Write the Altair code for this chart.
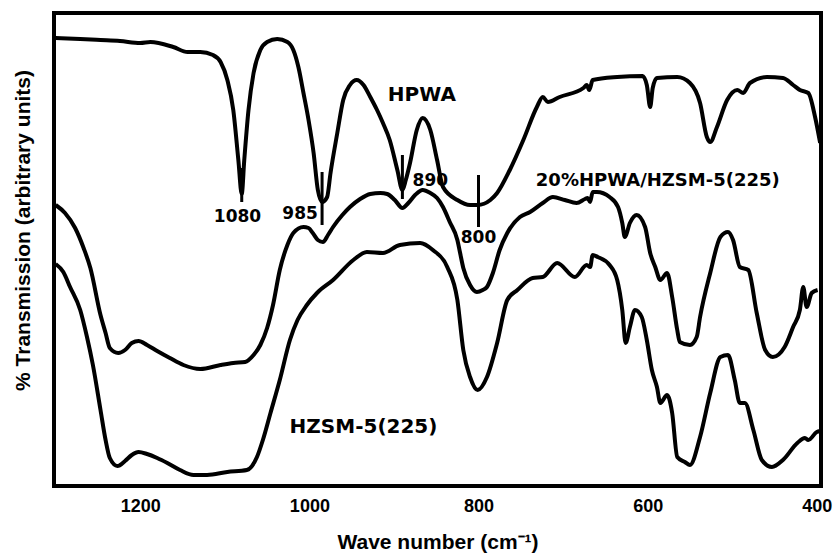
import altair as alt
import pandas as pd

# Wave numbers (cm-1) and transmission (arbitrary units) for each spectrum
hpwa_wn = [1300, 1271, 1247, 1224, 1200, 1188, 1161, 1144, 1129, 1114,
           1105, 1097, 1090, 1084, 1080, 1077, 1072, 1066, 1058, 1050,
           1038, 1026, 1019, 1013, 1007, 1001, 995, 990, 985, 979,
           975, 967, 960, 952, 944, 936, 928, 920, 913, 905,
           896, 890, 886, 881, 873, 866, 857, 849, 842, 825,
           810, 801, 786, 778, 763, 747, 731, 724, 718, 704,
           676, 672, 669, 665, 636, 606, 601, 597, 594, 589,
           565, 550, 538, 530, 526, 518, 506, 494, 487, 479,
           459, 440, 428, 420, 410, 402, 396]
hpwa_t = [44.8, 44.7, 44.6, 44.5, 44.3, 44.4, 43.9, 43.4, 43.4, 43.1,
          42.4, 40.6, 37.6, 32.6, 29.2, 32.6, 37.6, 41.3, 43.6, 44.4,
          44.7, 44.4, 43.6, 41.9, 39.3, 36.6, 33.3, 29.6, 28.4, 28.9,
          31.3, 35.3, 38.6, 40.1, 40.6, 40.1, 38.9, 37.6, 36.3, 34.6,
          31.6, 29.6, 30.6, 32.3, 35.6, 36.8, 35.6, 32.6, 29.9, 28.6,
          28.1, 28.1, 28.6, 29.3, 31.6, 34.6, 37.9, 38.9, 38.4, 38.9,
          39.8, 40.1, 39.6, 40.6, 40.9, 41.0, 40.1, 37.9, 39.8, 40.8,
          40.9, 40.3, 38.3, 34.9, 34.4, 35.9, 38.6, 39.6, 39.3, 40.3,
          40.9, 40.8, 40.1, 39.6, 39.3, 36.9, 34.3]

composite_wn = [1300, 1289, 1277, 1267, 1259, 1247, 1241, 1236, 1226, 1218,
                1210, 1202, 1192, 1180, 1165, 1149, 1129, 1105, 1090, 1076,
                1066, 1058, 1050, 1043, 1035, 1026, 1019, 1007, 1001, 996,
                990, 984, 978, 972, 961, 952, 940, 928, 916, 908,
                899, 890, 883, 875, 866, 857, 849, 842, 834, 825,
                822, 818, 810, 802, 795, 790, 783, 775, 766, 751,
                739, 724, 712, 698, 684, 674, 671, 668, 665, 660,
                645, 635, 630, 627, 621, 613, 603, 597, 591, 585,
                577, 571, 565, 562, 550, 542, 538, 526, 514, 505,
                499, 491, 481, 471, 461, 452, 438, 428, 420, 416,
                412, 406, 399]
composite_t = [28.1, 27.3, 25.8, 23.8, 21.8, 17.1, 15.3, 13.8, 13.3, 13.6,
               14.3, 14.5, 14.1, 13.5, 12.8, 12.1, 11.7, 12.1, 12.3, 12.4,
               13.1, 14.1, 15.8, 18.1, 21.6, 24.1, 25.3, 25.9, 25.8, 25.3,
               24.6, 24.4, 25.1, 25.9, 27.1, 27.9, 28.7, 29.2, 29.3, 29.2,
               28.6, 27.8, 28.3, 29.1, 29.6, 29.3, 28.8, 27.9, 26.4, 24.6,
               23.4, 21.8, 20.1, 19.4, 19.6, 19.9, 21.3, 23.6, 25.3, 26.9,
               27.4, 28.3, 28.9, 28.6, 28.3, 28.7, 28.8, 28.4, 29.4, 29.4,
               28.9, 27.9, 26.3, 24.9, 26.3, 27.1, 25.9, 23.3, 21.9, 20.6,
               21.3, 18.9, 15.6, 14.4, 14.1, 14.9, 16.9, 21.3, 24.9, 25.4,
               24.6, 21.9, 21.6, 17.3, 13.6, 12.9, 13.9, 15.9, 17.6, 19.9,
               17.9, 19.3, 19.6]

hzsm_wn = [1300, 1291, 1283, 1271, 1263, 1256, 1247, 1241, 1236, 1227,
           1218, 1210, 1202, 1192, 1180, 1168, 1153, 1137, 1121, 1097,
           1074, 1062, 1055, 1046, 1035, 1023, 1014, 1003, 991, 972,
           948, 932, 913, 893, 869, 854, 837, 825, 818, 810,
           801, 790, 778, 766, 754, 736, 724, 707, 686, 672,
           668, 665, 659, 645, 636, 630, 626, 621, 615, 607,
           601, 595, 589, 585, 577, 571, 565, 556, 550, 538,
           526, 514, 505, 497, 491, 485, 475, 465, 453, 440,
           423, 414, 410, 400, 396]
hzsm_t = [22.2, 21.4, 19.9, 17.6, 14.9, 12.1, 7.6, 4.6, 2.8, 2.0,
          2.5, 3.1, 3.4, 3.2, 2.8, 2.3, 1.6, 1.1, 1.1, 1.4,
          1.6, 2.9, 4.6, 7.3, 10.6, 14.6, 16.6, 18.1, 19.3, 20.6,
          22.6, 23.4, 23.3, 24.1, 24.3, 23.6, 21.9, 18.6, 13.6, 10.9,
          9.6, 10.9, 14.3, 18.6, 19.6, 20.8, 20.9, 22.3, 20.9, 22.1,
          21.9, 23.1, 22.9, 22.1, 20.6, 17.6, 14.3, 15.9, 17.6, 16.9,
          14.6, 11.6, 9.9, 8.3, 9.1, 7.3, 2.9, 2.4, 2.1, 4.9,
          9.3, 12.9, 13.1, 10.6, 8.3, 8.3, 5.6, 2.6, 1.9, 2.6,
          4.3, 4.8, 4.6, 5.4, 5.5]

# Band markers: wave number, top and bottom of each tick, label and label anchor
band_wn = [1080, 985, 890, 800]
band_top = [31.8, 31.4, 33.1, 31.1]
band_bottom = [28.4, 26.1, 28.7, 25.9]
band_text = ["1080", "985", "890", "800"]
band_text_wn = [1085, 1011, 857, 800]
band_text_t = [26.9, 27.2, 30.5, 24.8]

# Sample names
name_text = ["HPWA", "20%HPWA/HZSM-5(225)", "HZSM-5(225)"]
name_wn = [867, 588, 936]
name_t = [39.1, 30.5, 5.9]
name_size = [20, 18, 20]

spectra = pd.concat([
    pd.DataFrame({"wn": hpwa_wn, "t": hpwa_t, "sample": "HPWA"}),
    pd.DataFrame({"wn": composite_wn, "t": composite_t, "sample": "20%HPWA/HZSM-5(225)"}),
    pd.DataFrame({"wn": hzsm_wn, "t": hzsm_t, "sample": "HZSM-5(225)"}),
], ignore_index=True)

bands = pd.DataFrame({"wn": band_wn, "top": band_top, "bottom": band_bottom})
band_labels = pd.DataFrame({"wn": band_text_wn, "t": band_text_t, "text": band_text})
names = pd.DataFrame({"wn": name_wn, "t": name_t, "text": name_text, "size": name_size})

x_scale = alt.Scale(domain=[395, 1302], reverse=True, nice=False, zero=False)
y_scale = alt.Scale(domain=[0, 47.3], nice=False, zero=False)

x_axis = alt.Axis(
    values=[1200, 1000, 800, 600, 400], format="d",
    ticks=False, domain=False, grid=False,
    labelFont="Liberation Sans", labelFontSize=18, labelFontWeight="bold",
    labelColor="black", labelPadding=11,
    title="Wave number (cm⁻¹)", titleFont="Liberation Sans", titleFontSize=21,
    titleFontWeight="bold", titleColor="black", titlePadding=16,
)
y_axis = alt.Axis(
    labels=False, ticks=False, domain=False, grid=False,
    title="% Transmission (arbitrary units)", titleFont="Liberation Sans",
    titleFontSize=21, titleFontWeight="bold", titleColor="black",
    titleAngle=270, titleAlign="center", titleBaseline="middle",
    titleX=-31, titleY=217,
)

lines = alt.Chart(spectra).mark_line(
    color="black", strokeWidth=4, interpolate="monotone", strokeJoin="round"
).encode(
    x=alt.X("wn:Q", scale=x_scale, axis=x_axis),
    y=alt.Y("t:Q", scale=y_scale, axis=y_axis),
    detail="sample:N",
)

ticks = alt.Chart(bands).mark_rule(color="black", strokeWidth=3).encode(
    x="wn:Q", y="top:Q", y2="bottom:Q"
)

band_text_layer = alt.Chart(band_labels).mark_text(
    font="DejaVu Sans", fontWeight="bold", fontSize=17, color="black",
    align="center", baseline="middle"
).encode(x="wn:Q", y="t:Q", text="text:N")

name_layer = alt.Chart(names).mark_text(
    font="DejaVu Sans", fontWeight="bold", color="black",
    align="center", baseline="middle"
).encode(
    x="wn:Q", y="t:Q", text="text:N",
    size=alt.Size("size:Q", scale=None, legend=None),
)

chart = alt.layer(lines, ticks, band_text_layer, name_layer).properties(
    width=767, height=473,
    padding={"left": 54, "top": 13, "right": 16, "bottom": 74},
    autosize=alt.AutoSizeParams(type="none"),
    background="white",
).configure_view(stroke="black", strokeWidth=4)

chart.save("out.html", embed_options={"renderer": "svg", "actions": False})
